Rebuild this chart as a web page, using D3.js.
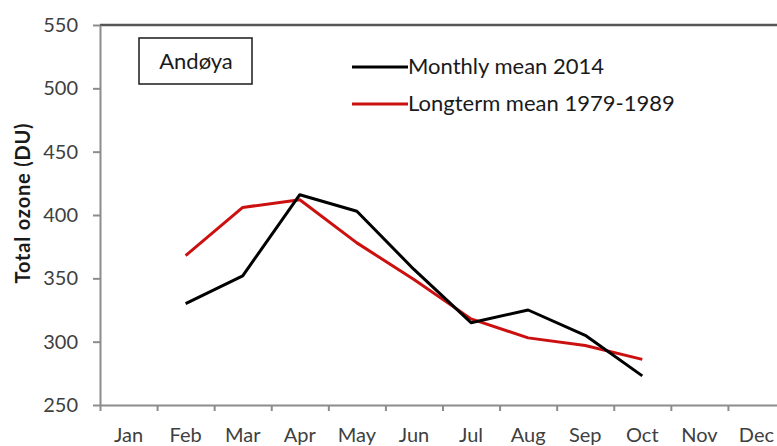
<!DOCTYPE html>
<html>
<head>
<meta charset="utf-8">
<script src="https://cdn.jsdelivr.net/npm/d3@7"></script>
<style>
  html, body { margin: 0; padding: 0; background: #fff; }
  svg { display: block; font-family: Lato, "Open Sans", sans-serif; }
</style>
</head>
<body>
<svg id="chart" width="777" height="446"></svg>
<script>
const months = ["Jan","Feb","Mar","Apr","May","Jun","Jul","Aug","Sep","Oct","Nov","Dec"];
const monthly2014 = [null, 330, 352, 416, 403, 357, 315, 325, 305, 273, null, null];
const longterm7989 = [null, 368, 406, 412, 378, 349, 318, 303, 297, 286, null, null];
const yTicks = [250, 300, 350, 400, 450, 500, 550];
const seriesNames = ["Monthly mean 2014", "Longterm mean 1979-1989"];
const stationName = "Andøya";
const yTitle = "Total ozone (DU)";

const svg = d3.select("#chart");
const pLeft = 100, pRight = 785, pTop = 25, pBottom = 405;

const x = d3.scaleBand().domain(months).range([pLeft, pRight]);
const xEdge = d3.scaleLinear().domain([0, months.length]).range([pLeft, pRight]);
const y = d3.scaleLinear().domain([250, 550]).range([pBottom, pTop]);

// top border
svg.append("line")
  .attr("x1", pLeft).attr("x2", pRight)
  .attr("y1", y(550)).attr("y2", y(550))
  .attr("stroke", "#555").attr("stroke-width", 2.5);

// left axis
const ya = svg.append("g").attr("transform", `translate(${pLeft},0)`)
  .call(d3.axisLeft(y).tickValues(yTicks).tickSize(7).tickSizeOuter(0).tickPadding(15));
ya.select(".domain").attr("stroke", "#8c8c8c").attr("stroke-width", 2);
ya.selectAll(".tick line").attr("stroke", "#8c8c8c").attr("stroke-width", 2);
ya.selectAll(".tick text").attr("font-size", 20).attr("fill", "#404040")
  .attr("font-family", "Lato, sans-serif");

// bottom axis tick marks at band edges
const xt = svg.append("g").attr("transform", `translate(0,${pBottom})`)
  .call(d3.axisBottom(xEdge).tickValues(d3.range(0, months.length + 1)).tickSize(6).tickSizeOuter(0).tickFormat(""));
xt.select(".domain").attr("stroke", "#8c8c8c").attr("stroke-width", 2);
xt.selectAll(".tick line").attr("stroke", "#8c8c8c").attr("stroke-width", 2);

// bottom labels at band centres
const xl = svg.append("g").attr("transform", `translate(0,${pBottom})`)
  .call(d3.axisBottom(x).tickSize(0).tickPadding(23));
xl.select(".domain").remove();
xl.selectAll(".tick text").attr("font-size", 20).attr("fill", "#404040")
  .attr("font-family", "Lato, sans-serif");

// y title
svg.append("text")
  .attr("transform", `translate(30,203) rotate(-90)`)
  .attr("text-anchor", "middle")
  .attr("font-size", 20).attr("font-weight", "bold").attr("fill", "#1a1a1a")
  .attr("letter-spacing", 0.8)
  .text(yTitle);

// lines
const line = d3.line()
  .defined(d => d.v != null)
  .x(d => x(d.m) + x.bandwidth() / 2)
  .y(d => y(d.v));

const toPts = arr => months.map((m, i) => ({ m, v: arr[i] }));

svg.append("path").datum(toPts(longterm7989))
  .attr("d", line).attr("fill", "none")
  .attr("stroke", "#cc1010").attr("stroke-width", 3).attr("stroke-linejoin", "round");
svg.append("path").datum(toPts(monthly2014))
  .attr("d", line).attr("fill", "none")
  .attr("stroke", "#000").attr("stroke-width", 3).attr("stroke-linejoin", "round");

// station box
svg.append("rect").attr("x", 139).attr("y", 38).attr("width", 113).attr("height", 46)
  .attr("fill", "#fff").attr("stroke", "#1a1a1a").attr("stroke-width", 1.5);
svg.append("text").attr("x", 196).attr("y", 69).attr("text-anchor", "middle")
  .attr("font-size", 22).attr("fill", "#1a1a1a").text(stationName);

// legend
const legColors = ["#000", "#cc1010"];
const legY = [67, 104];
seriesNames.forEach((name, i) => {
  svg.append("line").attr("x1", 352).attr("x2", 408)
    .attr("y1", legY[i]).attr("y2", legY[i])
    .attr("stroke", legColors[i]).attr("stroke-width", 3);
  svg.append("text").attr("x", 408).attr("y", legY[i] + 7)
    .attr("font-size", 22).attr("fill", "#1a1a1a").text(name);
});
</script>
</body>
</html>
